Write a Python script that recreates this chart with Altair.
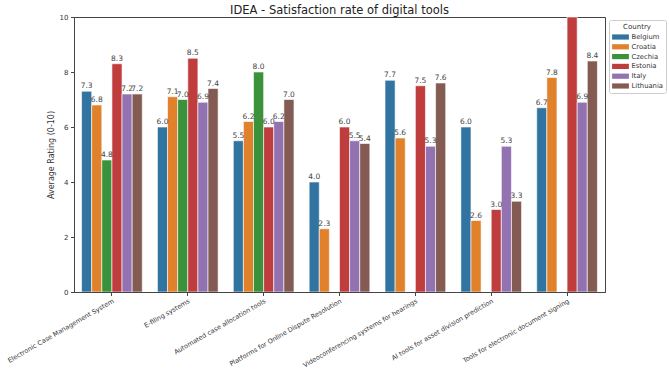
import altair as alt
import pandas as pd

tools = [
    "Electronic Case Management System",
    "E-filing systems",
    "Automated case allocation tools",
    "Platforms for Online Dispute Resolution",
    "Videoconferencing systems for hearings",
    "AI tools for asset division prediction",
    "Tools for electronic document signing",
]
countries = ["Belgium", "Croatia", "Czechia", "Estonia", "Italy", "Lithuania"]
colors = ["#3274a1", "#e1812c", "#3a923a", "#c03d3e", "#9372b2", "#845b53"]

belgium = [7.3, 6.0, 5.5, 4.0, 7.7, 6.0, 6.7]
croatia = [6.8, 7.1, 6.2, 2.3, 5.6, 2.6, 7.8]
czechia = [4.8, 7.0, 8.0, None, None, None, None]
estonia = [8.3, 8.5, 6.0, 6.0, 7.5, 3.0, 10.0]
italy = [7.2, 6.9, 6.2, 5.5, 5.3, 5.3, 6.9]
lithuania = [7.2, 7.4, 7.0, 5.4, 7.6, 3.3, 8.4]

series = dict(zip(countries, [belgium, croatia, czechia, estonia, italy, lithuania]))
rows = []
for country, vals in series.items():
    for tool, v in zip(tools, vals):
        if v is not None:
            rows.append({"Tool": tool, "Country": country, "Rating": v})
df = pd.DataFrame(rows)

FONT = "DejaVu Sans"

x_enc = alt.X(
    "Tool:N",
    sort=tools,
    scale=alt.Scale(paddingInner=0.2, paddingOuter=0.1),
    axis=alt.Axis(
        title=None,
        labelAngle=330,
        labelAlign="right",
        labelBaseline="top",
        labelFontSize=6.5,
        labelColor="#333",
        labelFont=FONT,
        labelPadding=2,
        tickSize=3.5,
        tickColor="#444",
        domainColor="#444",
        labelLimit=300,
    ),
)
xoff = alt.XOffset("Country:N", sort=countries, scale=alt.Scale(paddingInner=0, paddingOuter=0))
y_enc = alt.Y(
    "Rating:Q",
    scale=alt.Scale(domain=[0, 10], nice=False),
    axis=alt.Axis(
        title="Average Rating (0-10)",
        titleFontSize=8,
        titleFontWeight="normal",
        titleFont=FONT,
        titleColor="#333",
        titlePadding=4,
        values=[0, 2, 4, 6, 8, 10],
        labelFontSize=7,
        labelColor="#333",
        labelFont=FONT,
        labelPadding=2.5,
        tickSize=3.5,
        tickColor="#444",
        domainColor="#444",
        grid=False,
    ),
)

bars = alt.Chart(df).mark_bar(clip=True, stroke="white", strokeWidth=0.6).encode(
    x=x_enc,
    xOffset=xoff,
    y=y_enc,
    color=alt.Color(
        "Country:N",
        sort=countries,
        scale=alt.Scale(domain=countries, range=colors),
        legend=alt.Legend(
            title="Country",
            titleFontSize=7,
            titleFontWeight="normal",
            titleFont=FONT,
            titleColor="#333",
            titleAnchor="middle",
            titlePadding=3,
            labelFontSize=6.8,
            labelFont=FONT,
            labelColor="#333",
            symbolType="M-2.1,-0.65H2.1V0.65H-2.1Z",
            symbolSize=64,
            symbolStrokeWidth=0,
            symbolOffset=4.5,
            labelOffset=7,
            rowPadding=1.8,
            orient="none",
            legendX=535,
            legendY=3,
            padding=3,
            fillColor="white",
            strokeColor="#ccc",
            cornerRadius=2,
        ),
    ),
)

labels = alt.Chart(df).mark_text(
    clip=True, baseline="bottom", dy=-1, fontSize=7.5, font=FONT, color="#444"
).encode(
    x=alt.X("Tool:N", sort=tools),
    xOffset=alt.XOffset("Country:N", sort=countries),
    y="Rating:Q",
    text=alt.Text("Rating:Q", format=".1f"),
)

chart = (
    alt.layer(bars, labels)
    .properties(
        width=531,
        height=275,
        title=alt.TitleParams(
            "IDEA - Satisfaction rate of digital tools",
            fontSize=11.5,
            fontWeight="normal",
            font=FONT,
            color="#222",
            anchor="middle",
            frame="group",
            offset=3,
            dy=6,
        ),
        autosize=alt.AutoSizeParams(type="none"),
        padding={"left": 74, "top": 17, "right": 64, "bottom": 80},
    )
    .configure_view(stroke="#444", strokeWidth=1)
)

chart.save("out.html", embed_options={"renderer": "svg", "actions": False})
